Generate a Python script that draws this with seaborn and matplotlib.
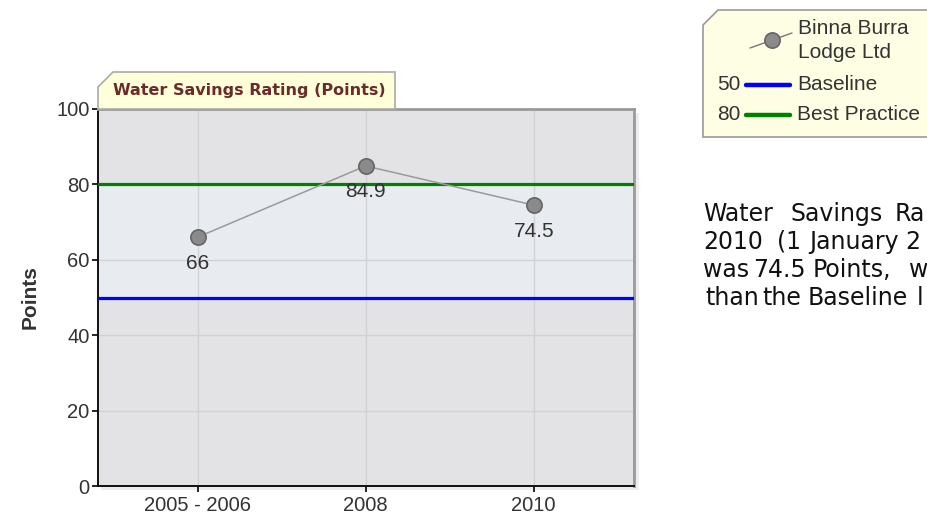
import matplotlib.pyplot as plt
import seaborn as sns
import pandas as pd
from matplotlib.patches import Polygon, Rectangle
from matplotlib.lines import Line2D

periods = ['2005 - 2006', '2008', '2010']
rating = [66, 84.9, 74.5]
baseline = 50
best_practice = 80
company = ['Binna Burra', 'Lodge Ltd']
y_ticks = [0, 20, 40, 60, 80, 100]

W, H = 928, 523


def px(x, y):
    # pixel position (from top-left) -> figure fraction
    return (x / W, 1 - y / H)


sns.set_theme(style='white')
plt.rcParams['font.family'] = ['Liberation Sans', 'DejaVu Sans']

fig = plt.figure(figsize=(W / 100, H / 100), dpi=100)
left, right, top, bottom = 98, 634, 109, 486
ax = fig.add_axes([left / W, 1 - bottom / H, (right - left) / W, (bottom - top) / H])

# faint shadow behind the plot box
fig.add_artist(Rectangle(px(left + 3, bottom + 4), (right - left + 2) / W, (bottom - top) / H,
                         transform=fig.transFigure, facecolor='#000000', alpha=0.07,
                         edgecolor='none', zorder=0))

ax.set_facecolor('#e3e3e6')
ax.axhspan(baseline, best_practice, color='#e8ebef', zorder=0)
ax.grid(True, color='#d2d2d6', lw=1)
ax.set_axisbelow(True)

df = pd.DataFrame({'period': periods, 'rating': rating})
sns.lineplot(data=df, x='period', y='rating', ax=ax, color='#9a9a9a', lw=1.1,
             marker='o', markersize=11, markerfacecolor='#8a8a8a',
             markeredgecolor='#666666', markeredgewidth=1.2, zorder=5)

ax.axhline(baseline, color='#0000ff', lw=2.3, zorder=3)
ax.axhline(best_practice, color='#008000', lw=2.3, zorder=3)

for i, v in enumerate(rating):
    ax.annotate(f'{v:g}', (i, v), xytext=(0, -26), textcoords='offset pixels',
                ha='center', va='center', fontsize=15, color='#333333', zorder=6)

ax.set_xlim(-0.593, 2.597)
ax.set_ylim(0, 100)
ax.set_yticks(y_ticks)
ax.set_xlabel('')
ax.set_ylabel('Points', fontsize=15, fontweight='bold', color='#333333')
ax.yaxis.set_label_coords((40 - left) / (right - left), 0.5)
ax.tick_params(axis='both', direction='out', length=4, width=1.2, color='#000000',
               labelsize=14.5, labelcolor='#333333')
ax.tick_params(axis='y', pad=2)
ax.tick_params(axis='x', pad=3)
ax.tick_params(left=True, bottom=True)

for s in ['left', 'bottom']:
    ax.spines[s].set_color('#111111')
    ax.spines[s].set_linewidth(1.4)
for s in ['top', 'right']:
    ax.spines[s].set_color('#9a9a9a')
    ax.spines[s].set_linewidth(2)

# title tab
tab = [px(98, 109), px(98, 87), px(113, 72), px(395, 72), px(395, 109)]
fig.add_artist(Polygon(tab, closed=True, transform=fig.transFigure,
                       facecolor='#ffffd9', edgecolor='#aaaaaa', lw=1.2, zorder=3))
fig.text(*px(113, 91), 'Water Savings Rating (Points)', fontsize=11.5, fontweight='bold',
         color='#6b2b2b', family='DejaVu Sans', va='center', ha='left', zorder=4)

# legend box
box = [px(703, 137), px(703, 25), px(718, 10), px(935, 10), px(935, 137)]
fig.add_artist(Polygon(box, closed=True, transform=fig.transFigure,
                       facecolor='#fefee4', edgecolor='#999999', lw=1.2, zorder=3))
lx, ly = zip(px(750, 48), px(792, 33))
fig.add_artist(Line2D(lx, ly, transform=fig.transFigure, color='#777777', lw=1, zorder=4))
fig.add_artist(Line2D([px(772, 40)[0]], [px(772, 40)[1]], transform=fig.transFigure,
                      marker='o', markersize=11, markerfacecolor='#8a8a8a',
                      markeredgecolor='#666666', markeredgewidth=1.2, zorder=5))
fig.text(*px(798, 28), company[0], fontsize=15, color='#333333', va='center', zorder=6)
fig.text(*px(798, 53), company[1], fontsize=15, color='#333333', va='center', zorder=6)
for yy, val, col, name in [(85, baseline, '#0000ff', 'Baseline'),
                           (115, best_practice, '#008000', 'Best Practice')]:
    fig.text(*px(741, yy), f'{val}', fontsize=15, color='#333333', va='center',
             ha='right', zorder=6)
    lx, ly = zip(px(746, yy), px(790, yy))
    fig.add_artist(Line2D(lx, ly, transform=fig.transFigure, color=col, lw=3.2, zorder=4))
    fig.text(*px(797, yy), name, fontsize=15, color='#333333', va='center', zorder=6)

# justified commentary text, as much of it as the reference shows
lines = [
    (221, [(703, 'Water'), (791, 'Savings'), (895, 'Ra')]),
    (249, [(703, '2010'), (777, '(1'), (809, 'January'), (905, '2')]),
    (277, [(703, 'was'), (753, '74.5'), (813, 'Points,'), (909, 'w')]),
    (305, [(705, 'than'), (762, 'the'), (808, 'Baseline'), (917, 'l')]),
]
for yb, words in lines:
    for xw, w in words:
        fig.text(*px(xw, yb), w, fontsize=17, color='#111111', family='DejaVu Sans',
                 va='baseline', ha='left')

fig.savefig('out.png', dpi=100)
